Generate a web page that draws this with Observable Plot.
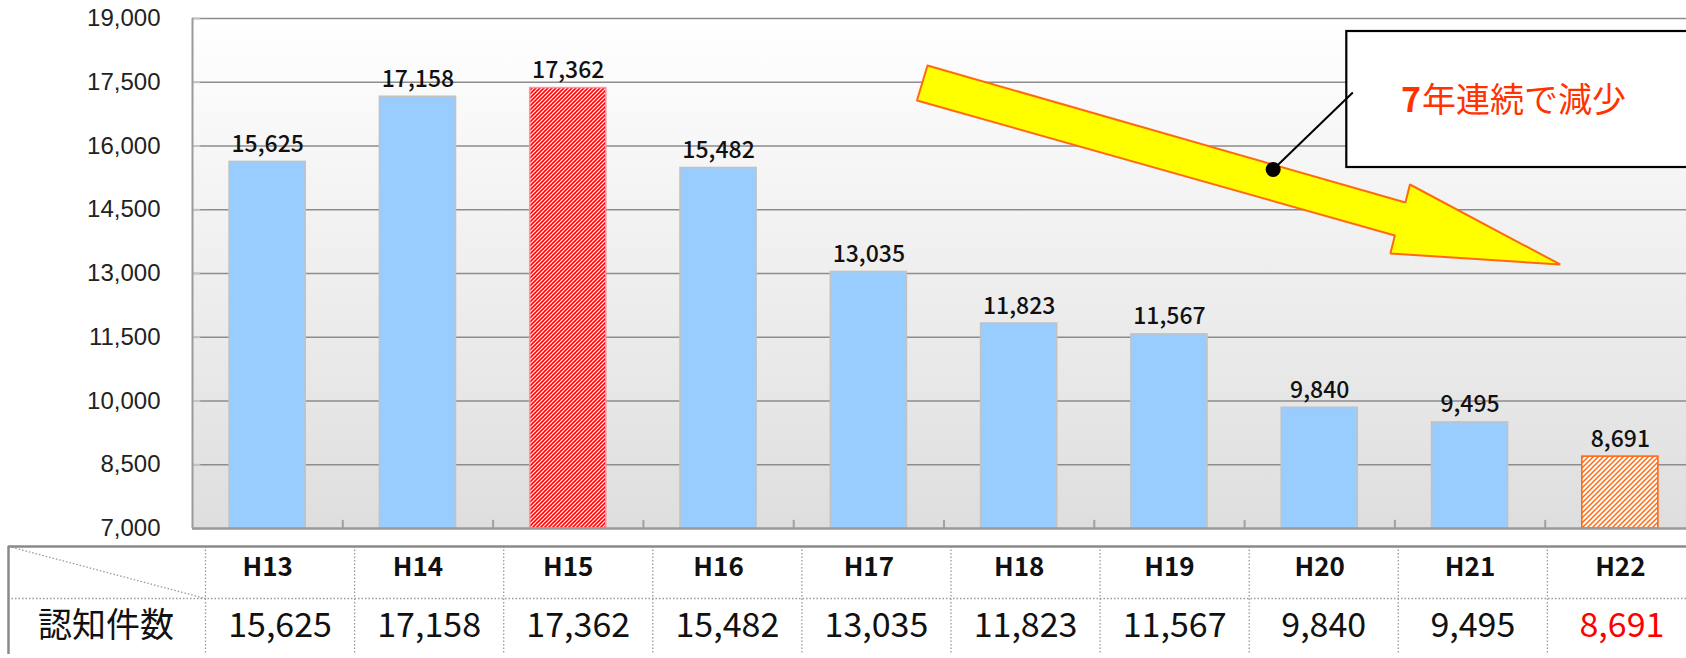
<!DOCTYPE html>
<html>
<head>
<meta charset="utf-8">
<script src="https://cdn.jsdelivr.net/npm/d3@7"></script>
<script src="https://cdn.jsdelivr.net/npm/@observablehq/plot@0.6"></script>
<style>
  html, body { margin: 0; padding: 0; background: #ffffff; }
  #chart svg, #table svg { display: block; }
</style>
</head>
<body>
<div id="chart"></div>
<div id="table"></div>
<script>
// ---------- data ----------
const categories = ["H13", "H14", "H15", "H16", "H17", "H18", "H19", "H20", "H21", "H22"];
const counts = [15625, 17158, 17362, 15482, 13035, 11823, 11567, 9840, 9495, 8691];
const yTicks = [7000, 8500, 10000, 11500, 13000, 14500, 16000, 17500, 19000];
const rowLabel = "認知件数";
const calloutLead = "7";
const calloutRest = "年連続で減少";
// arrow outline, in data units (category index, count)
const arrowX = [4.39, 7.57, 7.60, 8.60, 7.47, 7.50, 4.32, 4.39];
const arrowY = [17894, 14671, 15094, 13212, 13471, 13894, 17071, 17894];

// ---------- helpers ----------
const fmt = d3.format(",");
const FONT = "'Noto Sans CJK JP', 'Noto Sans', sans-serif";
const AXISFONT = "'Liberation Sans', Arial, sans-serif";
const data = categories.map((c, i) => ({c, i, count: counts[i]}));
const arrow = arrowX.map((x, k) => ({x, y: arrowY[k]}));
const special = {
  H15: {fill: "url(#hatchRed)", stroke: "#ff93a8"},
  H22: {fill: "url(#hatchOrange)", stroke: "#ff6a10"}
};
const hw = 0.253;
const callout = {x1: 7.18, x2: 9.8, y1: 15494, y2: 18694, dotX: 6.69, dotY: 15447, endX: 7.22, endY: 17259, textX1: 7.54, textX2: 7.68, textY: 17047};

const defs = () => {
  const g = d3.create("svg:defs");
  const grad = g.append("linearGradient").attr("id", "bgGrad").attr("x1", 0).attr("y1", 0).attr("x2", 0).attr("y2", 1);
  grad.append("stop").attr("offset", "0%").attr("stop-color", "#ffffff");
  grad.append("stop").attr("offset", "100%").attr("stop-color", "#dedede");
  const pr = g.append("pattern").attr("id", "hatchRed").attr("patternUnits", "userSpaceOnUse").attr("width", 4).attr("height", 4);
  pr.append("rect").attr("width", 4).attr("height", 4).attr("fill", "#ffffff");
  pr.append("path").attr("d", "M-1,1 l2,-2 M0,4 l4,-4 M3,5 l2,-2").attr("stroke", "#ff0000").attr("stroke-width", 1.6);
  const po = g.append("pattern").attr("id", "hatchOrange").attr("patternUnits", "userSpaceOnUse").attr("width", 5).attr("height", 5);
  po.append("rect").attr("width", 5).attr("height", 5).attr("fill", "#ffffff");
  po.append("path").attr("d", "M-1,1 l2,-2 M0,5 l5,-5 M4,6 l2,-2").attr("stroke", "#ff6a10").attr("stroke-width", 1.5);
  return g.node();
};

const chart = Plot.plot({
  width: 1686,
  height: 544,
  marginTop: 18,
  marginBottom: 16,
  marginLeft: 192,
  marginRight: 0,
  style: {fontFamily: FONT, background: "transparent"},
  x: {domain: [-0.5, 9.5], range: [192, 1695], axis: null},
  y: {domain: [7000, 19000], label: null},
  marks: [
    defs,
    Plot.frame({fill: "url(#bgGrad)", stroke: "none"}),
    Plot.ruleY(yTicks.filter(t => t > 7000), {stroke: "#8c8c8c", strokeWidth: 1.3}),
    Plot.ruleY(yTicks, {x1: () => -0.5, x2: () => -0.445, stroke: "#c4c4c4", strokeWidth: 2}),
    Plot.ruleX(d3.range(9).map(k => k + 0.5), {y1: () => 7000, y2: () => 7190, stroke: "#a0a0a0", strokeWidth: 2}),
    Plot.rect(data.filter(d => !special[d.c]), {x1: d => d.i - hw, x2: d => d.i + hw, y1: () => 7000, y2: "count", fill: "#99ccff", stroke: "#c2c2c2", strokeWidth: 1.6}),
    Plot.rect(data.filter(d => d.c === "H15"), {x1: d => d.i - hw, x2: d => d.i + hw, y1: () => 7000, y2: "count", fill: special.H15.fill, stroke: special.H15.stroke, strokeWidth: 1.6}),
    Plot.rect(data.filter(d => d.c === "H22"), {x1: d => d.i - hw, x2: d => d.i + hw, y1: () => 7000, y2: "count", fill: special.H22.fill, stroke: special.H22.stroke, strokeWidth: 1.6}),
    Plot.ruleY([7000], {stroke: "#9a9a9a", strokeWidth: 2.5}),
    Plot.ruleX([-0.5], {stroke: "#9a9a9a", strokeWidth: 2}),
    Plot.text(data, {x: "i", y: "count", text: d => fmt(d.count), lineAnchor: "bottom", dy: -10, fontSize: 23, fontWeight: 500, fill: "#111", fontFamily: FONT, letterSpacing: -0.4}),
    Plot.axisY({ticks: yTicks, tickFormat: fmt, tickSize: 0, tickPadding: 32, fontSize: 24, fill: "#222", fontFamily: AXISFONT, label: null}),
    Plot.line(arrow, {x: "x", y: "y", fill: "#ffff00", stroke: "#ff6a10", strokeWidth: 2, strokeLinejoin: "miter", curve: "linear"}),
    Plot.rect([callout], {x1: "x1", x2: "x2", y1: "y1", y2: "y2", fill: "#ffffff", stroke: "#000000", strokeWidth: 2.2}),
    Plot.text([callout], {x: "textX1", y: "textY", text: () => calloutLead, textAnchor: "start", fontSize: 34, fontWeight: "bold", fill: "#ff3300", fontFamily: FONT}),
    Plot.text([callout], {x: "textX2", y: "textY", text: () => calloutRest, textAnchor: "start", fontSize: 34, fill: "#ff3300", fontFamily: FONT}),
    Plot.link([callout], {x1: "dotX", y1: "dotY", x2: "endX", y2: "endY", stroke: "#000", strokeWidth: 2}),
    Plot.dot([callout], {x: "dotX", y: "dotY", r: 7.5, fill: "#000", stroke: "none"})
  ]
});
document.getElementById("chart").appendChild(chart);

// ---------- table ----------
const tableXOpts = {domain: [-0.5, 9.5], range: [205, 1696]};
const sx = chart.scale("x");
const tx = Plot.scale({x: tableXOpts});
const headerX = categories.map((c, i) => tx.invert(sx.apply(i)));
const tableLeft = tx.invert(8);
const labelX = tx.invert(105.5);
const topY = 0.07;

const table = Plot.plot({
  width: 1686,
  height: 114,
  marginTop: 0, marginBottom: 0, marginLeft: 0, marginRight: 0,
  style: {fontFamily: FONT, background: "transparent"},
  x: {...tableXOpts, axis: null},
  y: {domain: [0, 2], range: [-2, 110], axis: null},
  color: {type: "identity"},
  marks: [
    Plot.ruleX(d3.range(10).map(k => k - 0.5), {y1: () => topY, y2: () => 2, stroke: "#9a9a9a", strokeWidth: 1.3, strokeDasharray: "1.5,2"}),
    Plot.ruleY([1], {x1: () => tableLeft, x2: () => 9.6, stroke: "#9a9a9a", strokeWidth: 1.3, strokeDasharray: "1.5,2"}),
    Plot.link([{}], {x1: () => tableLeft, y1: () => topY, x2: () => -0.5, y2: () => 1, stroke: "#9a9a9a", strokeWidth: 1.3, strokeDasharray: "1.5,2"}),
    Plot.ruleY([topY], {x1: () => tableLeft, x2: () => 9.6, stroke: "#8a8a8a", strokeWidth: 2.5}),
    Plot.ruleX([tableLeft], {y1: () => topY, y2: () => 2, stroke: "#8a8a8a", strokeWidth: 2.5}),
    Plot.text(data, {x: d => headerX[d.i], y: () => 0.5, text: "c", fontSize: 26, fontWeight: 600, fill: "#111", dy: -3, fontFamily: FONT}),
    Plot.text(data, {x: "i", y: () => 1.5, text: d => fmt(d.count), fontSize: 34, fill: d => d.c === "H22" ? "#ff0000" : "#111", letterSpacing: 0.5, fontFamily: FONT}),
    Plot.text([rowLabel], {x: () => labelX, y: () => 1.5, text: d => d, fontSize: 34, fill: "#111", fontFamily: FONT})
  ]
});
document.getElementById("table").appendChild(table);
</script>
</body>
</html>
